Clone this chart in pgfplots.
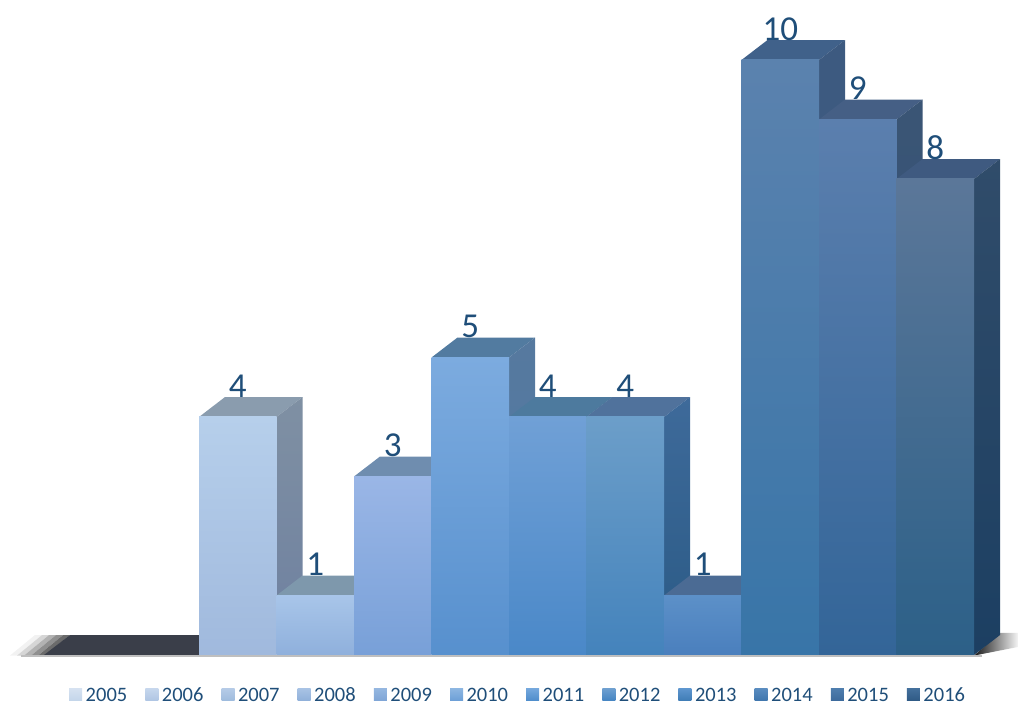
\documentclass[border=0pt]{standalone}
\usepackage{fontspec}
\setmainfont{Carlito}
\usepackage{pgfplots}
\pgfplotsset{compat=1.18}

\definecolor{labelblue}{HTML}{1F4E79}
\definecolor{floordark}{HTML}{3A3E49}
% front top, front bottom, side top, side bottom, top face
\definecolor{fa7}{HTML}{B6CFEB}\definecolor{fb7}{HTML}{A0B9DD}\definecolor{sa7}{HTML}{7F90A3}\definecolor{sb7}{HTML}{6E80A0}\definecolor{tt7}{HTML}{8A9CAE}
\definecolor{fa8}{HTML}{A8C5E9}\definecolor{fb8}{HTML}{8FB0DC}\definecolor{sa8}{HTML}{7890AC}\definecolor{sb8}{HTML}{6C88A8}\definecolor{tt8}{HTML}{7E98AC}
\definecolor{fa9}{HTML}{9AB6E6}\definecolor{fb9}{HTML}{78A0D8}\definecolor{sa9}{HTML}{6A88AA}\definecolor{sb9}{HTML}{5F80A4}\definecolor{tt9}{HTML}{6F8DAF}
\definecolor{fa10}{HTML}{7CABDF}\definecolor{fb10}{HTML}{5790CE}\definecolor{sa10}{HTML}{56799F}\definecolor{sb10}{HTML}{4F7AA2}\definecolor{tt10}{HTML}{527BA0}
\definecolor{fa11}{HTML}{70A0D6}\definecolor{fb11}{HTML}{4A88C8}\definecolor{sa11}{HTML}{4D749C}\definecolor{sb11}{HTML}{4A7099}\definecolor{tt11}{HTML}{4D7A9E}
\definecolor{fa12}{HTML}{6C9EC9}\definecolor{fb12}{HTML}{4483BC}\definecolor{sa12}{HTML}{3E6A9A}\definecolor{sb12}{HTML}{2A5A85}\definecolor{tt12}{HTML}{50729C}
\definecolor{fa13}{HTML}{5C90C8}\definecolor{fb13}{HTML}{4A7FBD}\definecolor{sa13}{HTML}{3E6390}\definecolor{sb13}{HTML}{345A85}\definecolor{tt13}{HTML}{4B6B94}
\definecolor{fa14}{HTML}{5B82AE}\definecolor{fb14}{HTML}{3875A8}\definecolor{sa14}{HTML}{3D5A80}\definecolor{sb14}{HTML}{3A5A82}\definecolor{tt14}{HTML}{40618A}
\definecolor{fa15}{HTML}{5B7FAE}\definecolor{fb15}{HTML}{336598}\definecolor{sa15}{HTML}{3A5575}\definecolor{sb15}{HTML}{34507A}\definecolor{tt15}{HTML}{455F85}
\definecolor{fa16}{HTML}{5B7799}\definecolor{fb16}{HTML}{2C6088}\definecolor{sa16}{HTML}{304C6A}\definecolor{sb16}{HTML}{1C3F62}\definecolor{tt16}{HTML}{3F5A80}
% legend swatches
\definecolor{la05}{HTML}{D6E2F1}\definecolor{lb05}{HTML}{C3D5EA}
\definecolor{la06}{HTML}{C6D7ED}\definecolor{lb06}{HTML}{AFC5E3}
\definecolor{la07}{HTML}{B5CBE7}\definecolor{lb07}{HTML}{9EBBDD}
\definecolor{la08}{HTML}{A8C3E5}\definecolor{lb08}{HTML}{8FB0D9}
\definecolor{la09}{HTML}{95B7E0}\definecolor{lb09}{HTML}{7FA5D6}
\definecolor{la10}{HTML}{8DB6E2}\definecolor{lb10}{HTML}{6C9FD6}
\definecolor{la11}{HTML}{75A8DD}\definecolor{lb11}{HTML}{4E8CCB}
\definecolor{la12}{HTML}{6FA0D0}\definecolor{lb12}{HTML}{4484C2}
\definecolor{la13}{HTML}{5E96CF}\definecolor{lb13}{HTML}{3F7CB5}
\definecolor{la14}{HTML}{5A8CC0}\definecolor{lb14}{HTML}{3F76AD}
\definecolor{la15}{HTML}{4F7EAE}\definecolor{lb15}{HTML}{3C6A9C}
\definecolor{la16}{HTML}{44709C}\definecolor{lb16}{HTML}{2F5A85}

% x0, x1, x0 + depth, x1 + depth, value, value + depth, year
\newcommand{\threedbar}[7]{%
  \addplot[forget plot,draw=none,fill=tt#7] coordinates {(#1,#5)(#2,#5)(#4,#6)(#3,#6)} -- cycle;
  \addplot[forget plot,draw=none,shade,top color=sa#7,bottom color=sb#7] coordinates {(#2,0)(#4,0.336)(#4,#6)(#2,#5)} -- cycle;
  \addplot[forget plot,draw=none,shade,top color=fa#7,bottom color=fb#7] coordinates {(#1,0)(#2,0)(#2,#5)(#1,#5)} -- cycle;
}
\newcommand{\swatch}[2]{\addlegendimage{draw=none,shade,top color=la#1,bottom color=lb#1}\addlegendentry{#2}}

\begin{document}
\begin{tikzpicture}
\useasboundingbox (0,0) rectangle (1018pt,702pt);
\begin{axis}[%
at={(0,0)},
anchor=south west,
width=1018pt,
height=702pt,
scale only axis,
hide axis,
xmin=-0.56774,
xmax=12.5677,
ymin=-0.78992,
ymax=11.0084,
legend columns=12,
legend cell align=left,
legend image code/.code={\path[#1] (0pt,-6pt) rectangle (13pt,6.5pt);\path (14pt,0pt);},
legend style={
  at={(0.0680,0.0)},
  anchor=south west,
  draw=none,
  fill=none,
  inner sep=0pt,
  outer sep=0pt,
  font=\fontsize{20.5pt}{22pt}\selectfont,
  text=labelblue,
  nodes={inner xsep=2.5pt,inner ysep=0.7pt,text depth=0pt,text height=13pt},
  /tikz/every even column/.append style={column sep=15.6pt}
}
]
% shadow left of the floor, in steps
\addplot[forget plot,draw=none,fill=black!5] coordinates {(-0.439,-0.01)(-0.348,-0.01)(-0.025,0.336)(-0.116,0.336)} -- cycle;
\addplot[forget plot,draw=none,fill=black!16] coordinates {(-0.348,-0.01)(-0.258,-0.01)(0.065,0.336)(-0.025,0.336)} -- cycle;
\addplot[forget plot,draw=none,fill=black!30] coordinates {(-0.258,-0.01)(-0.168,-0.01)(0.155,0.336)(0.065,0.336)} -- cycle;
\addplot[forget plot,draw=none,fill=black!44] coordinates {(-0.168,-0.01)(-0.077,-0.01)(0.246,0.336)(0.155,0.336)} -- cycle;
\addplot[forget plot,draw=none,fill=black!58] coordinates {(-0.077,-0.01)(0.013,-0.01)(0.336,0.336)(0.246,0.336)} -- cycle;
% shadow right of the last bar
\addplot[forget plot,draw=none,shade,left color=black!90,right color=black!4] coordinates {(12,-0.01)(12.336,0.37)(12.568,0.37)(12.568,0.135)} -- cycle;
\addplot[forget plot,color=black!25,line width=1.5pt] coordinates {(-0.3,-0.02)(12.1,-0.02)};

% 2005 and 2006 are zero, only the floor shows
\addplot[forget plot,draw=none,fill=floordark] coordinates {(0,0)(2,0)(2.336,0.336)(0.336,0.336)} -- cycle;

\threedbar{2}{3}{2.336}{3.336}{4}{4.336}{7}
\threedbar{3}{4}{3.336}{4.336}{1}{1.336}{8}
\threedbar{4}{5}{4.336}{5.336}{3}{3.336}{9}
\threedbar{5}{6}{5.336}{6.336}{5}{5.336}{10}
\threedbar{6}{7}{6.336}{7.336}{4}{4.336}{11}
\threedbar{7}{8}{7.336}{8.336}{4}{4.336}{12}
\threedbar{8}{9}{8.336}{9.336}{1}{1.336}{13}
\threedbar{9}{10}{9.336}{10.336}{10}{10.336}{14}
\threedbar{10}{11}{10.336}{11.336}{9}{9.336}{15}
\threedbar{11}{12}{11.336}{12.336}{8}{8.336}{16}

% value labels
\addplot[
  forget plot,
  only marks,
  mark=none,
  point meta=explicit symbolic,
  nodes near coords={\pgfplotspointmeta},
  every node near coord/.append style={anchor=base,inner sep=0pt,text=labelblue,font=\fontsize{35pt}{38pt}\selectfont}
] table[meta=v] {
x y v
2.5 4.336 4
3.5 1.336 1
4.5 3.336 3
5.5 5.336 5
6.5 4.336 4
7.5 4.336 4
8.5 1.336 1
9.5 10.336 10
10.5 9.336 9
11.5 8.336 8
};

\swatch{05}{2005}
\swatch{06}{2006}
\swatch{07}{2007}
\swatch{08}{2008}
\swatch{09}{2009}
\swatch{10}{2010}
\swatch{11}{2011}
\swatch{12}{2012}
\swatch{13}{2013}
\swatch{14}{2014}
\swatch{15}{2015}
\swatch{16}{2016}
\end{axis}
\end{tikzpicture}
\end{document}
